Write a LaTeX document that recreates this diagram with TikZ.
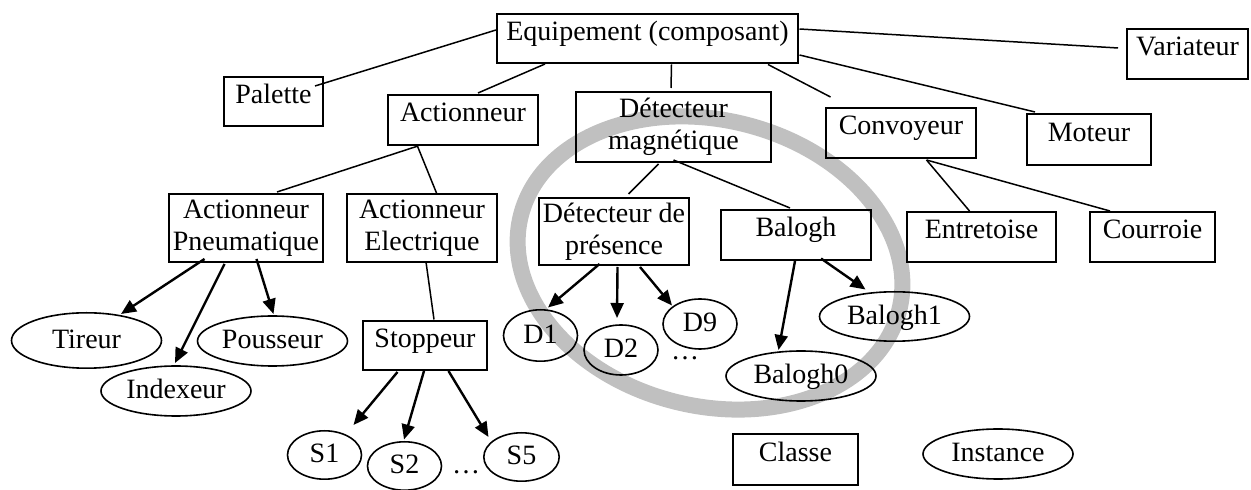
\documentclass[tikz,border=0pt]{standalone}
\usepackage{fontspec}
\setmainfont{Liberation Serif}
\usetikzlibrary{shapes.geometric,arrows.meta,calc}
\definecolor{ringgray}{RGB}{192,192,192}

\begin{document}
\begin{tikzpicture}[x=0.5pt,y=-0.5pt,>={Triangle[length=7.5pt,width=6.5pt]},
   font=\fontsize{14pt}{16.1pt}\selectfont,
   frm/.style={rectangle,draw,line width=1pt,inner sep=2pt,minimum height=25pt},
   cls/.style={frm,text height=10pt,text depth=8pt},
   cls2/.style={frm,align=center,minimum width=75pt,minimum height=34pt},
   obj/.style={ellipse,draw,line width=0.8pt,inner sep=0pt,minimum width=75pt,
     minimum height=25pt,text height=10pt,text depth=2pt},
   objs/.style={obj,minimum width=37pt},
   link/.style={line width=0.75pt},
   isa/.style={->,line width=1.2pt},
   ring/.style={draw=ringgray,line width=8pt}]
  \useasboundingbox (0,0) rectangle (1251,490);
  % grouping of the magnetic detectors
  \draw[ring,rotate around={-14:(710,263)}] (710,263) ellipse [x radius=195,y radius=143];

  % classes
  \node[cls,minimum width=150.5pt,minimum height=24.5pt] (equip) at (647.5,38.5) {Equipement (composant)};
  \node[cls,minimum width=60.5pt] (var) at (1187.5,54) {Variateur};
  \node[cls,minimum width=49.5pt,minimum height=24.5pt] (pal) at (273.5,101.5) {Palette};
  \node[cls,minimum width=75pt] (act) at (463,120) {Actionneur};
  \node[cls2,minimum width=97.5pt,minimum height=35pt] (detmag) at (673.5,127) {Détecteur\\magnétique};
  \node[cls,minimum width=75pt] (conv) at (901,133) {Convoyeur};
  \node[cls,minimum width=62pt,minimum height=25.5pt] (mot) at (1089,139.5) {Moteur};
  \node[cls2] (actpn) at (246,228) {Actionneur\\Pneumatique};
  \node[cls2] (actel) at (422,228) {Actionneur\\Electrique};
  \node[cls2,minimum height=33.5pt] (detpr) at (614,231.5) {Détecteur de\\présence};
  \node[cls,minimum width=75pt] (bal) at (796,235) {Balogh};
  \node[cls,minimum width=74.5pt] (entr) at (981.5,237) {Entretoise};
  \node[cls,minimum width=62.5pt] (cour) at (1152.5,237) {Courroie};
  \node[cls,minimum width=62pt,minimum height=24.5pt] (stop) at (425,345.5) {Stoppeur};

  % instances
  \node[obj,minimum height=27.7pt] (tir) at (86.5,340.5) {Tireur};
  \node[obj] (idx) at (176,391) {Indexeur};
  \node[obj] (pous) at (272.5,341) {Pousseur};
  \node[objs,minimum height=24.2pt] (s1) at (324.5,455) {S1};
  \node[objs,minimum height=24.2pt] (s2) at (404.5,466) {S2};
  \node[objs,minimum width=37.7pt,minimum height=24.2pt] (s5) at (521.5,457) {S5};
  \node (sdots) at (466,472) {…};
  \node[objs,minimum height=25.7pt] (d1) at (540.5,335.5) {D1};
  \node[objs] (d2) at (621,350) {D2};
  \node[objs] (d9) at (700,324) {D9};
  \node (ddots) at (685,358) {…};
  \node[obj] (bal0) at (801,376) {Balogh0};
  \node[obj,minimum height=24.7pt] (bal1) at (894.5,316.5) {Balogh1};

  % legend
  \node[cls,minimum width=62.5pt,minimum height=25.5pt] (leg1) at (795.5,459.5) {Classe};
  \node[obj] (leg2) at (998,454) {Instance};

  % class hierarchy
  \draw[link] ($(equip)+(-151.5,-8.5)$) -- ($(pal)+(41.5,-15.5)$);
  \draw[link] ($(equip)+(-102.5,25.5)$) -- ($(act)+(15,-27)$);
  \draw[link] ($(equip)+(24,26)$) -- ($(detmag)+(-2.5,-39)$);
  \draw[link] ($(equip)+(120.5,26)$) -- ($(conv)+(-70.5,-36)$);
  \draw[link] ($(equip)+(152,16.5)$) -- ($(mot)+(-54,-27.5)$);
  \draw[link] ($(equip)+(152,-9.5)$) -- ($(var)+(-69.5,-6)$);
  \draw[link] ($(act)+(-45,26)$) -- ($(actpn)+(31,-36)$);
  \draw[link] ($(act)+(-46,25)$) -- ($(actel)+(14.5,-35)$);
  \draw[link] ($(actel)+(4,34)$) -- ($(stop)+(9,-26)$);
  \draw[link] ($(detmag)+(-15,37)$) -- ($(detpr)+(14.5,-37.5)$);
  \draw[link] ($(detmag)+(0,33)$) -- ($(bal)+(-6,-27)$);
  \draw[link] ($(conv)+(25.5,27)$) -- ($(entr)+(-12,-26)$);
  \draw[link] ($(conv)+(25.5,27)$) -- ($(cour)+(-42.5,-26)$);

  % instantiation
  \draw[isa] ($(actpn)+(-41.5,31)$) -- ($(tir)+(34.5,-26.5)$);
  \draw[isa] ($(actpn)+(-21.5,36)$) -- ($(idx)+(-1,-28)$);
  \draw[isa] ($(actpn)+(10.5,31)$) -- ($(pous)+(1,-27)$);
  \draw[isa] ($(stop)+(-27.5,26.5)$) -- ($(s1)+(29,-30)$);
  \draw[isa] ($(stop)+(-1,25.5)$) -- ($(s2)+(-0.5,-26.5)$);
  \draw[isa] ($(stop)+(23.5,25.5)$) -- ($(s5)+(-33,-20)$);
  \draw[isa] ($(detpr)+(-14.5,32.5)$) -- ($(d1)+(7.5,-28)$);
  \draw[isa] ($(detpr)+(3.5,35.5)$) -- ($(d2)+(-4,-32)$);
  \draw[isa] ($(detpr)+(26,35.5)$) -- ($(d9)+(-28,-18.5)$);
  \draw[isa] ($(bal)+(-1,26)$) -- ($(bal0)+(-22.5,-26)$);
  \draw[isa] ($(bal)+(25,23.5)$) -- ($(bal1)+(-29,-27)$);
\end{tikzpicture}
\end{document}
